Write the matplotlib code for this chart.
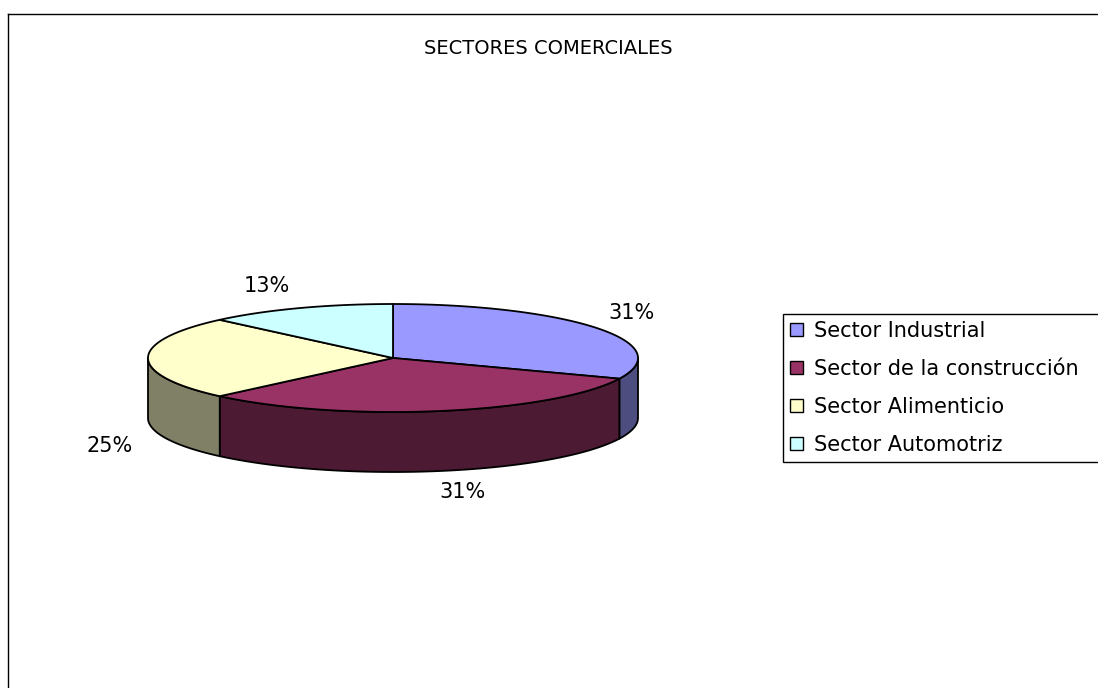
import numpy as np
import matplotlib
matplotlib.use("Agg")
from matplotlib import pyplot as plt
from matplotlib.patches import Polygon, Patch

# data
sectores = [
    "Sector Industrial",
    "Sector de la construcción",
    "Sector Alimenticio",
    "Sector Automotriz",
]
valores = [5, 5, 4, 2]

# styles
colores_top = ["#9999FF", "#993366", "#FFFFCC", "#CCFFFF"]
colores_lado = ["#4D4D80", "#4D1A33", "#808066", "#668080"]
# label nudges (px) away from the rim point of each slice
desplaz_etiqueta = [(35, -15), (22, 21), (-38, 28), (-32, -22)]

FONT = "DejaVu Sans"


def elipse(cx, cy, rx, ry, t):
    t = np.radians(t)
    return cx + rx * np.cos(t), cy - ry * np.sin(t)


def main():
    fig = plt.figure(figsize=(10.98, 6.88), dpi=100)
    ax = fig.add_axes([0, 0, 1, 1])
    ax.set_xlim(0, 1098)
    ax.set_ylim(688, 0)
    ax.axis("off")

    # chart border (cut off on right and bottom)
    ax.plot([7.5, 7.5], [688, 13.5], color="black", lw=1.0)
    ax.plot([7.5, 1098], [13.5, 13.5], color="black", lw=1.0)

    ax.text(548, 48, "SECTORES COMERCIALES", ha="center", va="center",
            fontsize=14, family=FONT)

    cx, cy, rx, ry, prof = 393, 358, 245, 54, 60
    total = sum(valores)
    inicio = 90.0
    angulos = []
    acum = 0
    for v in valores:
        t1 = inicio - acum * 360.0 / total
        t2 = t1 - v * 360.0 / total
        angulos.append((t1, t2))
        acum += v

    # side walls (front half only)
    for (t1, t2), col in zip(angulos, colores_lado):
        a, b = max(t2, -180.0), min(t1, 0.0)
        if a >= b:
            continue
        t = np.linspace(a, b, 80)
        x, y = elipse(cx, cy, rx, ry, t)
        xs = np.concatenate([x, x[::-1]])
        ys = np.concatenate([y, (y + prof)[::-1]])
        ax.add_patch(Polygon(np.column_stack([xs, ys]), closed=True,
                             facecolor=col, edgecolor="black", lw=1.3,
                             joinstyle="round"))

    # top faces
    for (t1, t2), col in zip(angulos, colores_top):
        t = np.linspace(t1, t2, 120)
        x, y = elipse(cx, cy, rx, ry, t)
        xs = np.concatenate([[cx], x])
        ys = np.concatenate([[cy], y])
        ax.add_patch(Polygon(np.column_stack([xs, ys]), closed=True,
                             facecolor=col, edgecolor="black", lw=1.3,
                             joinstyle="round"))

    # percentage labels
    for (t1, t2), v, (dx, dy) in zip(angulos, valores, desplaz_etiqueta):
        tm = (t1 + t2) / 2.0
        x, y = elipse(cx, cy, rx, ry, tm)
        if np.sin(np.radians(tm)) < 0:
            y += prof
        elif abs(np.sin(np.radians(tm))) < 1e-6:
            y += prof / 2.0
        pct = int(100.0 * v / total + 0.5)
        ax.text(x + dx, y + dy, f"{pct}%", ha="center", va="center",
                fontsize=15, family=FONT)

    handles = [Patch(facecolor=c, edgecolor="black", lw=1.0) for c in colores_top]
    leg = ax.legend(handles, sectores, loc="upper left",
                    bbox_to_anchor=(783 / 1098, 1 - 463 / 688,
                                    400 / 1098, (463 - 314) / 688),
                    bbox_transform=fig.transFigure, mode="expand",
                    borderaxespad=0, borderpad=0.34, labelspacing=0.86,
                    handlelength=0.6, handleheight=0.6, handletextpad=0.55,
                    fancybox=False, framealpha=1, edgecolor="black",
                    prop={"family": FONT, "size": 15})
    leg.get_frame().set_linewidth(1.0)

    fig.savefig("out.png", dpi=100)


if __name__ == "__main__":
    main()
